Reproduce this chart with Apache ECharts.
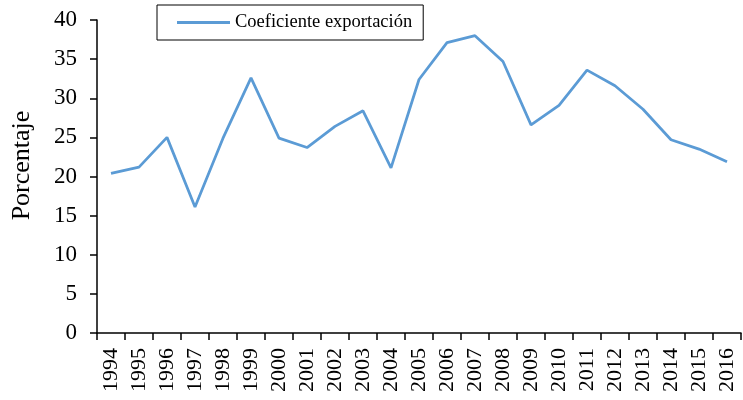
<!DOCTYPE html>
<html lang="en">
<head>
<meta charset="UTF-8">
<title>Coeficiente exportación</title>
<style>
  html, body { margin: 0; padding: 0; background: #fff; }
  #chart { width: 743px; height: 400px; }
</style>
</head>
<body>
<div id="chart"></div>
<script src="https://cdn.jsdelivr.net/npm/echarts@6/dist/echarts.min.js"></script>
<script>
var years = ['1994','1995','1996','1997','1998','1999','2000','2001','2002','2003','2004','2005',
             '2006','2007','2008','2009','2010','2011','2012','2013','2014','2015','2016'];
var coeficiente = [20.4, 21.2, 25.0, 16.1, 24.9, 32.6, 24.9, 23.7, 26.4, 28.4, 21.1, 32.4,
                   37.1, 38.0, 34.7, 26.6, 29.1, 33.6, 31.6, 28.6, 24.7, 23.5, 21.9];
var yTicks = [0, 5, 10, 15, 20, 25, 30, 35, 40];

var font = '"Liberation Serif", "Times New Roman", serif';
var chart = echarts.init(document.getElementById('chart'));

chart.setOption({
  animation: false,
  textStyle: { fontFamily: font },
  grid: { left: 97, right: 2, top: 20, bottom: 67, containLabel: false, outerBoundsMode: 'none' },
  legend: {
    left: 157, top: 5,
    padding: [8, 11, 8, 20],
    itemWidth: 53, itemHeight: 3, itemGap: 5,
    borderColor: '#000', borderWidth: 1,
    icon: 'rect',
    textStyle: { fontFamily: font, fontSize: 18.5, lineHeight: 19, color: '#000' },
    data: ['Coeficiente exportación']
  },
  xAxis: {
    type: 'category',
    data: years,
    boundaryGap: true,
    axisLine: { lineStyle: { color: '#000', width: 1.5 } },
    axisTick: { show: true, length: 7, lineStyle: { color: '#000', width: 1.5 } },
    axisLabel: { rotate: 90, interval: 0, color: '#000', fontSize: 22, fontFamily: font, margin: 15 }
  },
  yAxis: {
    type: 'value',
    min: yTicks[0], max: yTicks[yTicks.length - 1], interval: 5,
    name: 'Porcentaje',
    nameLocation: 'middle',
    nameGap: 62,
    nameRotate: 90,
    nameTextStyle: { fontFamily: font, fontSize: 26, color: '#000', padding: [0, 0, 0, 22] },
    axisLine: { show: true, lineStyle: { color: '#000', width: 1.5 } },
    axisTick: { show: true, length: 7, lineStyle: { color: '#000', width: 1.5 } },
    axisLabel: { color: '#000', fontSize: 23, fontFamily: font, margin: 20 },
    splitLine: { show: false }
  },
  series: [{
    name: 'Coeficiente exportación',
    type: 'line',
    data: coeficiente,
    symbol: 'none',
    lineStyle: { color: '#5B9BD5', width: 2.75 },
    itemStyle: { color: '#5B9BD5' }
  }]
});
</script>
</body>
</html>
